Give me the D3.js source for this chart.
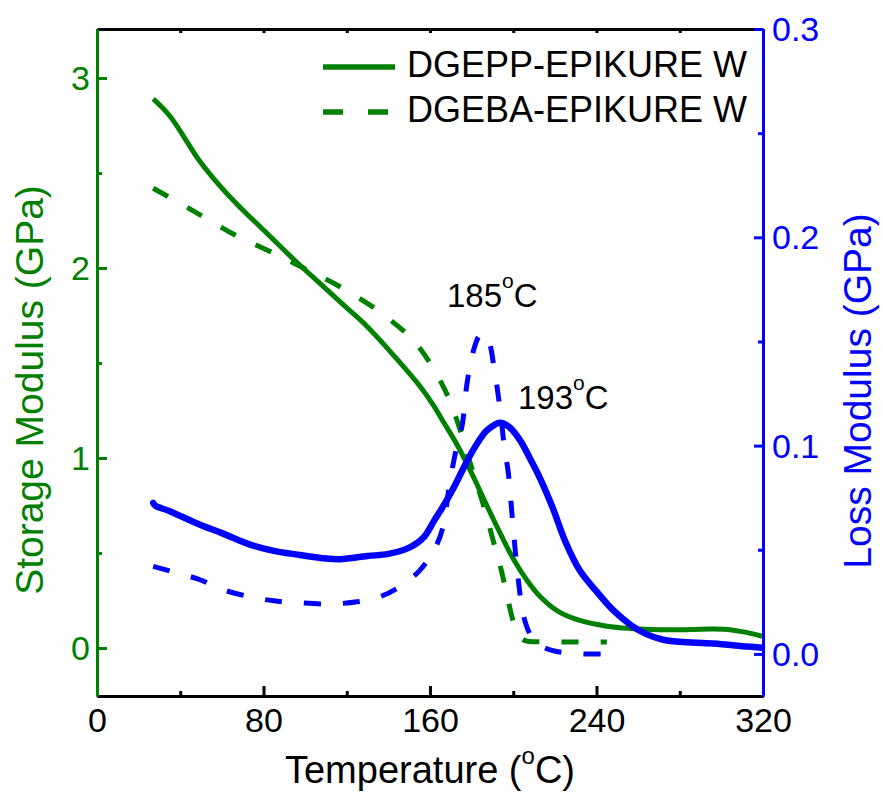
<!DOCTYPE html>
<html>
<head>
<meta charset="utf-8">
<script src="https://cdn.jsdelivr.net/npm/d3@7"></script>
<style>
  html, body { margin: 0; padding: 0; background: #fff; }
  text { font-family: "Liberation Sans", Arial, sans-serif; }
</style>
</head>
<body>
<svg id="chart" width="883" height="797"></svg>
<script>
// ---------- data ----------
// DGEPP-EPIKURE W storage modulus (GPa)
const dgeppStorageT = [27, 35, 49.5, 60, 68.7, 80, 96, 110, 120, 130, 145, 155, 161.5, 167, 173, 180, 186, 193, 200, 207, 213, 222, 232, 245, 256, 270, 285, 296, 305, 312, 319.5];
const dgeppStorage  = [2.89, 2.80, 2.56, 2.42, 2.32, 2.20, 2.03, 1.89, 1.79, 1.69, 1.51, 1.38, 1.28, 1.18, 1.07, 0.92, 0.78, 0.62, 0.47, 0.35, 0.27, 0.19, 0.145, 0.115, 0.103, 0.096, 0.097, 0.10, 0.095, 0.082, 0.062];
// DGEBA-EPIKURE W storage modulus (GPa)
const dgebaStorageT = [27, 40, 49.5, 67, 86.5, 101, 117, 134.5, 145, 152, 160, 165.7, 170, 173.5, 178, 182, 186, 190, 194, 197, 200, 203, 206, 211, 225, 245];
const dgebaStorage  = [2.42, 2.34, 2.28, 2.17, 2.07, 1.99, 1.90, 1.78, 1.69, 1.62, 1.50, 1.39, 1.29, 1.18, 1.02, 0.88, 0.74, 0.58, 0.42, 0.28, 0.14, 0.06, 0.038, 0.033, 0.032, 0.032];
// DGEPP-EPIKURE W loss modulus (GPa)
const dgeppLossT = [27, 28, 35, 49.5, 60, 73.5, 85, 97.5, 110, 117, 130, 140, 150, 157, 162, 167, 172, 177, 182, 187, 191, 193.6, 198, 203, 209, 213, 219, 225, 232, 240, 248, 257, 264, 272, 280, 296, 312, 319.5];
const dgeppLoss  = [0.0725, 0.0712, 0.0685, 0.062, 0.058, 0.0525, 0.0495, 0.0475, 0.0458, 0.0455, 0.047, 0.048, 0.051, 0.056, 0.064, 0.072, 0.081, 0.091, 0.100, 0.107, 0.110, 0.111, 0.109, 0.103, 0.092, 0.084, 0.070, 0.054, 0.040, 0.030, 0.021, 0.0135, 0.0095, 0.0068, 0.0058, 0.005, 0.0036, 0.003];
// DGEBA-EPIKURE W loss modulus (GPa)
const dgebaLossT = [27, 40, 49.5, 60, 73.5, 85, 97.5, 112, 125, 136, 145, 155, 162, 166, 169.6, 173, 175.5, 177.8, 181, 183.5, 185.5, 188, 191, 193.6, 196, 197.5, 200, 202.5, 205, 209, 215, 225, 246];
const dgebaLoss  = [0.042, 0.0385, 0.0356, 0.031, 0.0274, 0.0255, 0.0245, 0.024, 0.025, 0.0275, 0.032, 0.040, 0.050, 0.060, 0.083, 0.100, 0.110, 0.130, 0.146, 0.1525, 0.154, 0.151, 0.136, 0.118, 0.097, 0.088, 0.060, 0.035, 0.018, 0.008, 0.003, 0.0005, 0.0];

const xMajorTicks = [0, 80, 160, 240, 320];
const xMinorTicks = [40, 120, 200, 280];
const leftMajorTicks = [0, 1, 2, 3];
const leftMinorTicks = [0.5, 1.5, 2.5];
const rightMajorTicks = [0.0, 0.1, 0.2, 0.3];
const rightMinorTicks = [0.05, 0.15, 0.25];

const legendLabels = ["DGEPP-EPIKURE W", "DGEBA-EPIKURE W"];
const peakLabels = [{t: "185", x: 185}, {t: "193", x: 193}];

// ---------- layout ----------
const GREEN = "#008000", BLUE = "#0000ff";
const L = 97, R = 763, T = 29, B = 696;
const svg = d3.select("#chart");
svg.append("rect").attr("width", 883).attr("height", 797).attr("fill", "#fff");

const x = d3.scaleLinear().domain([0, 320]).range([L, R]);
const yL = d3.scaleLinear().domain([-0.2526, 3.2579]).range([B, T]);
const yR = d3.scaleLinear().domain([-0.0202, 0.3]).range([B, T]);

const zip = (a, b) => a.map((v, i) => [v, b[i]]);
const lineL = d3.line().x(d => x(d[0])).y(d => yL(d[1])).curve(d3.curveCatmullRom.alpha(0.5));
const lineR = d3.line().x(d => x(d[0])).y(d => yR(d[1])).curve(d3.curveCatmullRom.alpha(0.5));

const plot = svg.append("g");
plot.append("path").datum(zip(dgebaStorageT, dgebaStorage)).attr("d", lineL)
  .attr("fill", "none").attr("stroke", GREEN).attr("stroke-width", 5).attr("stroke-dasharray", "17,22");
plot.append("path").datum(zip(dgeppStorageT, dgeppStorage)).attr("d", lineL)
  .attr("fill", "none").attr("stroke", GREEN).attr("stroke-width", 5);
plot.append("path").datum(zip(dgebaLossT, dgebaLoss)).attr("d", lineR)
  .attr("fill", "none").attr("stroke", BLUE).attr("stroke-width", 5).attr("stroke-dasharray", "17,22");
plot.append("path").datum(zip(dgeppLossT, dgeppLoss)).attr("d", lineR)
  .attr("fill", "none").attr("stroke", BLUE).attr("stroke-width", 6.5).attr("stroke-linecap", "round");

// ---------- axes ----------
function styleAxis(g, color, fs) {
  g.select(".domain").attr("stroke", color).attr("stroke-width", 3);
  g.selectAll(".tick line").attr("stroke", color).attr("stroke-width", 3);
  g.selectAll(".tick text").attr("fill", color).attr("font-size", fs)
    .attr("font-family", "Liberation Sans, Arial, sans-serif");
}
// top
const gTop = svg.append("g").attr("transform", `translate(0,${T})`)
  .call(d3.axisTop(x).tickValues(xMajorTicks.concat(xMinorTicks)).tickSizeInner(-4).tickSizeOuter(0).tickFormat(""));
styleAxis(gTop, "#000", 0);
// bottom
const gBm = svg.append("g").attr("transform", `translate(0,${B})`)
  .call(d3.axisBottom(x).tickValues(xMinorTicks).tickSizeInner(-5).tickSizeOuter(0).tickFormat(""));
styleAxis(gBm, "#000", 0);
const gB = svg.append("g").attr("transform", `translate(0,${B})`)
  .call(d3.axisBottom(x).tickValues(xMajorTicks).tickSizeInner(-10).tickSizeOuter(0).tickPadding(12).tickFormat(d3.format("d")));
styleAxis(gB, "#000", 34);
// left
const gLm = svg.append("g").attr("transform", `translate(${L},0)`)
  .call(d3.axisLeft(yL).tickValues(leftMinorTicks).tickSizeInner(-5).tickSizeOuter(0).tickFormat(""));
styleAxis(gLm, GREEN, 0);
const gL = svg.append("g").attr("transform", `translate(${L},0)`)
  .call(d3.axisLeft(yL).tickValues(leftMajorTicks).tickSizeInner(-10).tickSizeOuter(0).tickPadding(7).tickFormat(d3.format("d")));
styleAxis(gL, GREEN, 34);
gL.selectAll(".tick text").attr("dy", "0.34em");
// right
const gRm = svg.append("g").attr("transform", `translate(${R},0)`)
  .call(d3.axisRight(yR).tickValues(rightMinorTicks).tickSizeInner(-5).tickSizeOuter(0).tickFormat(""));
styleAxis(gRm, BLUE, 0);
const gR = svg.append("g").attr("transform", `translate(${R},0)`)
  .call(d3.axisRight(yR).tickValues(rightMajorTicks).tickSizeInner(-9).tickSizeOuter(0).tickPadding(9).tickFormat(d3.format(".1f")));
styleAxis(gR, BLUE, 34);
gR.selectAll(".tick text").attr("dy", "0.34em");

// ---------- axis titles ----------
const xt = svg.append("text").attr("x", (L + R) / 2).attr("y", 783).attr("text-anchor", "middle")
  .attr("font-size", 38).attr("fill", "#000");
xt.append("tspan").text("Temperature (");
xt.append("tspan").attr("font-size", 24).attr("dy", -19).text("o");
xt.append("tspan").attr("dy", 19).text("C)");

svg.append("text").attr("transform", "translate(43,390) rotate(-90)").attr("text-anchor", "middle")
  .attr("font-size", 39).attr("fill", GREEN).text("Storage Modulus (GPa)");
svg.append("text").attr("transform", "translate(871,391) rotate(-90)").attr("text-anchor", "middle")
  .attr("font-size", 39).attr("fill", BLUE).text("Loss Modulus (GPa)");

// ---------- peak annotations ----------
const annPos = [{x: 447, y: 307}, {x: 518, y: 409}];
peakLabels.forEach((p, i) => {
  const t = svg.append("text").attr("x", annPos[i].x).attr("y", annPos[i].y)
    .attr("font-size", 33).attr("fill", "#000");
  t.append("tspan").text(p.t);
  t.append("tspan").attr("font-size", 21).attr("dy", -19).text("o");
  t.append("tspan").attr("dy", 19).text("C");
});

// ---------- legend ----------
const lg = svg.append("g");
lg.append("line").attr("x1", 323).attr("x2", 395).attr("y1", 67).attr("y2", 67)
  .attr("stroke", GREEN).attr("stroke-width", 5.5);
lg.append("line").attr("x1", 323).attr("x2", 390).attr("y1", 112).attr("y2", 112)
  .attr("stroke", GREEN).attr("stroke-width", 5.5).attr("stroke-dasharray", "20,25");
legendLabels.forEach((s, i) => {
  lg.append("text").attr("x", 407).attr("y", 77 + i * 45).attr("font-size", 36).attr("fill", "#000").text(s);
});
</script>
</body>
</html>
